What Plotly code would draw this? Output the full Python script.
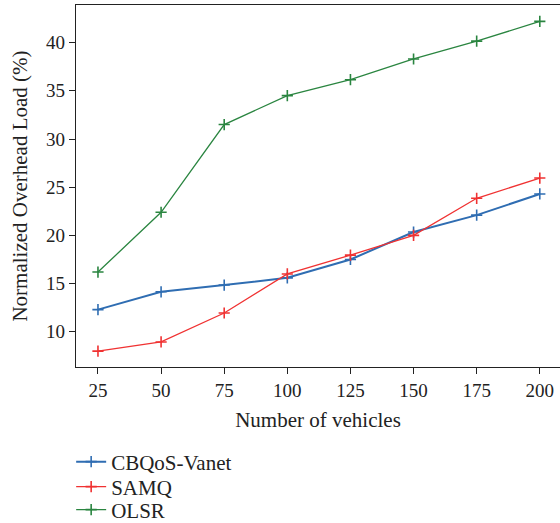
import plotly.graph_objects as go

vehicles = [25, 50, 75, 100, 125, 150, 175, 200]
cbqos = [12.3, 14.15, 14.85, 15.6, 17.5, 20.35, 22.1, 24.3]
samq = [8.0, 8.95, 11.95, 16.0, 17.95, 20.0, 23.85, 25.95]
olsr = [16.2, 22.4, 31.5, 34.5, 36.15, 38.3, 40.15, 42.2]

FONT = "Liberation Serif"
series = [
    ("CBQoS-Vanet", cbqos, "#2f6db2", 2.0, "legend", -0.2624),
    ("SAMQ", samq, "#f03232", 1.3, "legend2", -0.3315),
    ("OLSR", olsr, "#2a8540", 1.3, "legend3", -0.395),
]

fig = go.Figure()
legends = {}
for name, vals, color, lw, lg, ly in series:
    fig.add_trace(go.Scatter(
        x=vehicles, y=vals, name=name, mode="lines+markers",
        line=dict(color=color, width=lw), legend=lg,
        marker=dict(symbol="cross-thin", size=8, line=dict(color=color, width=1.6)),
    ))
    legends[lg] = dict(
        x=-0.01, y=ly, xanchor="left", yanchor="middle",
        font=dict(family=FONT, size=21, color="#222"),
        itemwidth=30, bgcolor="rgba(0,0,0,0)",
    )

fig.update_layout(
    width=560, height=523,
    margin=dict(l=76, r=0, t=5, b=156, autoexpand=False),
    paper_bgcolor="white", plot_bgcolor="white",
    font=dict(family=FONT, size=19, color="#222"),
    showlegend=True,
    xaxis=dict(
        range=[16.3, 208], tickvals=vehicles, showgrid=False, zeroline=False,
        automargin=False,
        showline=True, linecolor="#222", linewidth=1.2, mirror=True,
        ticks="outside", ticklen=6, tickcolor="#222",
        title=dict(text="Number of vehicles", font=dict(size=21), standoff=12),
    ),
    yaxis=dict(
        range=[6.35, 43.9], tickvals=[10, 15, 20, 25, 30, 35, 40],
        showgrid=False, zeroline=False, automargin=False,
        showline=True, linecolor="#222", linewidth=1.2,
        ticks="outside", ticklen=6, tickcolor="#222",
        title=dict(text="Normalized Overhead Load (%)", font=dict(size=21), standoff=12),
    ),
    **legends,
)

fig.write_html("out.html")
